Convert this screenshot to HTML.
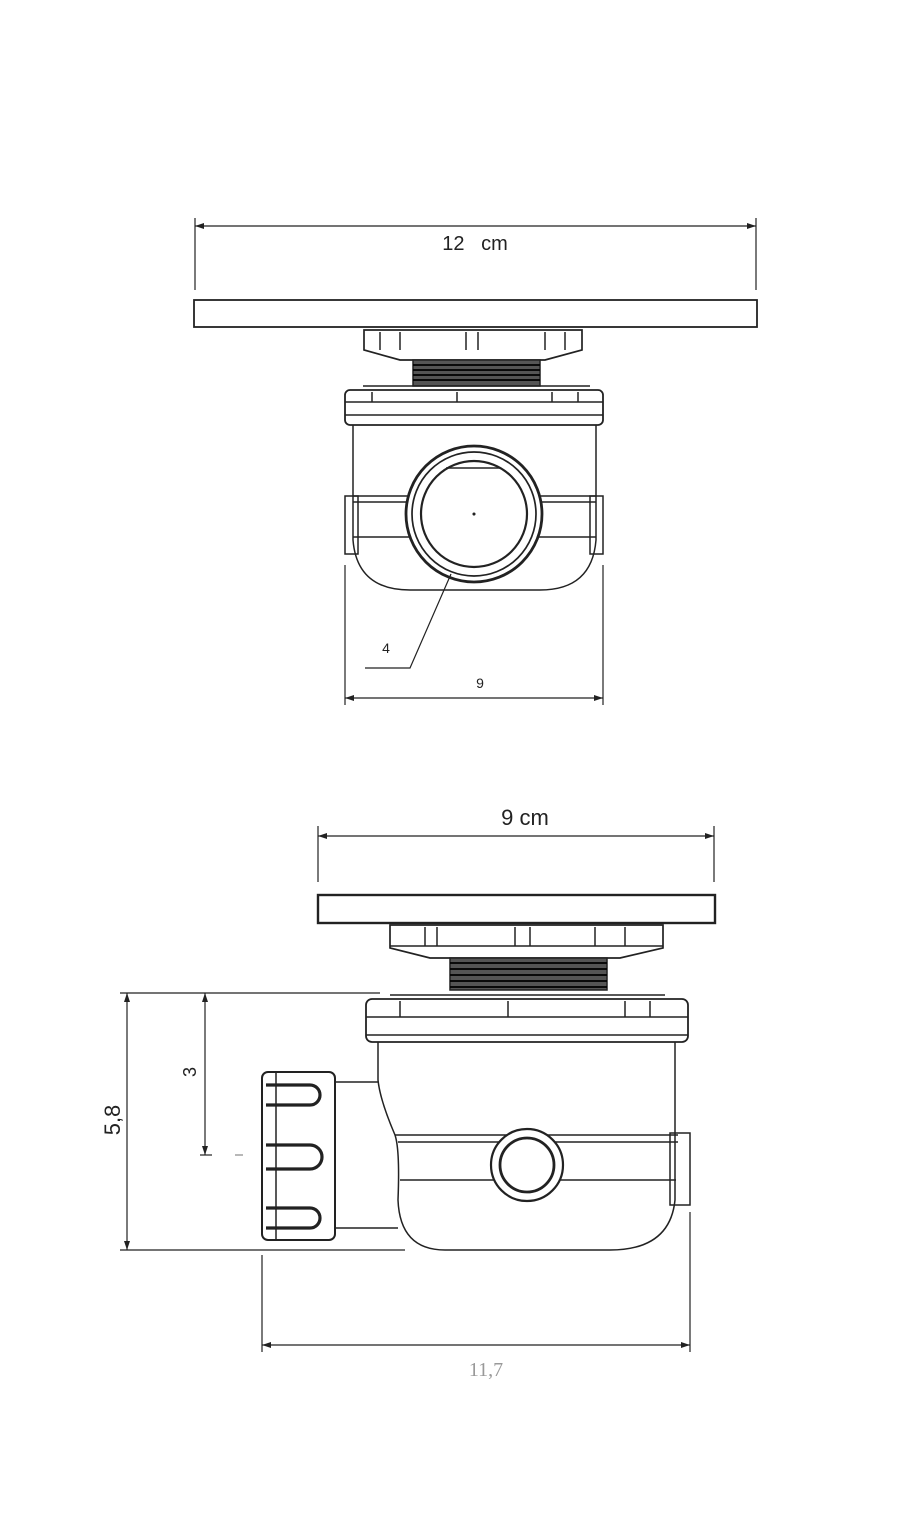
<!DOCTYPE html>
<html><head><meta charset="utf-8"><style>html,body{margin:0;padding:0;background:#fff}svg{display:block}</style></head>
<body>
<svg width="900" height="1535" viewBox="0 0 900 1535" xmlns="http://www.w3.org/2000/svg" fill="none" stroke="#222" stroke-width="1.5">
<defs>
<marker id="a" markerWidth="10" markerHeight="8" refX="9" refY="4" orient="auto-start-reverse" markerUnits="userSpaceOnUse"><path d="M0,1 L9,4 L0,7" fill="#222" stroke="none"/></marker>
</defs>
<!-- TOP VIEW -->
<line x1="195" y1="226" x2="756" y2="226" stroke-width="1.2" marker-start="url(#a)" marker-end="url(#a)"/>
<line x1="195" y1="218" x2="195" y2="290" stroke-width="1.2"/>
<line x1="756" y1="218" x2="756" y2="290" stroke-width="1.2"/>
<text x="475" y="250" font-family="Liberation Sans, sans-serif" font-size="20" fill="#222" stroke="none" text-anchor="middle">12&#160;&#160;&#160;cm</text>
<rect x="194" y="300" width="563" height="27" stroke-width="1.8"/>
<path d="M364,330 H582 V350 L545,360 H400 L364,350 Z" stroke-width="1.7"/>
<line x1="380" y1="332" x2="380" y2="350"/><line x1="400" y1="332" x2="400" y2="350"/>
<line x1="466" y1="332" x2="466" y2="350"/><line x1="478" y1="332" x2="478" y2="350"/>
<line x1="545" y1="332" x2="545" y2="350"/><line x1="565" y1="332" x2="565" y2="350"/>
<rect x="413" y="360" width="127" height="26" fill="#555" stroke-width="1.5"/>
<g stroke="#000" stroke-width="1.8"><line x1="413" y1="365" x2="540" y2="365"/><line x1="413" y1="370" x2="540" y2="370"/><line x1="413" y1="375" x2="540" y2="375"/><line x1="413" y1="380" x2="540" y2="380"/></g>
<line x1="363" y1="386" x2="590" y2="386"/>
<rect x="345" y="390" width="258" height="35" rx="5" stroke-width="1.8"/>
<line x1="345" y1="402" x2="603" y2="402"/><line x1="345" y1="415" x2="603" y2="415"/>
<line x1="372" y1="392" x2="372" y2="402"/><line x1="457" y1="392" x2="457" y2="402"/><line x1="552" y1="392" x2="552" y2="402"/><line x1="578" y1="392" x2="578" y2="402"/>
<path d="M353,425 V540 Q357,590 410,590 H540 Q592,590 596,540 V425"/>
<line x1="353" y1="496" x2="596" y2="496"/><line x1="353" y1="502" x2="596" y2="502"/><line x1="353" y1="537" x2="596" y2="537"/>
<rect x="345" y="496" width="13" height="58"/><rect x="590" y="496" width="13" height="58"/>
<circle cx="474" cy="514" r="68" fill="#fff" stroke-width="2.8"/>
<circle cx="474" cy="514" r="62" stroke-width="1.7"/>
<circle cx="474" cy="514" r="53" stroke-width="2.2"/>
<path d="M446,468 H500" stroke-width="1.5"/>
<circle cx="474" cy="514" r="0.8" fill="#222"/>
<line x1="345" y1="565" x2="345" y2="705" stroke-width="1.2"/><line x1="603" y1="565" x2="603" y2="705" stroke-width="1.2"/>
<line x1="345" y1="698" x2="603" y2="698" stroke-width="1.2" marker-start="url(#a)" marker-end="url(#a)"/>
<text x="480" y="688" font-family="Liberation Sans, sans-serif" font-size="14" fill="#222" stroke="none" text-anchor="middle">9</text>
<text x="386" y="653" font-family="Liberation Sans, sans-serif" font-size="14" fill="#222" stroke="none" text-anchor="middle">4</text>
<polyline points="365,668 410,668 451,574" stroke-width="1.2"/>
<!-- BOTTOM VIEW -->
<line x1="318" y1="836" x2="714" y2="836" stroke-width="1.2" marker-start="url(#a)" marker-end="url(#a)"/>
<line x1="318" y1="826" x2="318" y2="882" stroke-width="1.2"/><line x1="714" y1="826" x2="714" y2="882" stroke-width="1.2"/>
<text x="525" y="825" font-family="Liberation Sans, sans-serif" font-size="22" fill="#222" stroke="none" text-anchor="middle">9 cm</text>
<rect x="318" y="895" width="397" height="28" stroke-width="2.4"/>
<path d="M390,925 H663 V948 L620,958 H430 L390,948 Z" stroke-width="1.7"/>
<g><line x1="425" y1="927" x2="425" y2="946"/><line x1="437" y1="927" x2="437" y2="946"/><line x1="515" y1="927" x2="515" y2="946"/><line x1="530" y1="927" x2="530" y2="946"/><line x1="595" y1="927" x2="595" y2="946"/><line x1="625" y1="927" x2="625" y2="946"/><line x1="390" y1="946" x2="663" y2="946"/></g>
<rect x="450" y="958" width="157" height="32" fill="#555" stroke-width="1.5"/>
<g stroke="#000" stroke-width="1.8"><line x1="450" y1="963" x2="607" y2="963"/><line x1="450" y1="969" x2="607" y2="969"/><line x1="450" y1="975" x2="607" y2="975"/><line x1="450" y1="981" x2="607" y2="981"/><line x1="450" y1="987" x2="607" y2="987"/></g>
<line x1="390" y1="995" x2="665" y2="995"/>
<rect x="366" y="999" width="322" height="43" rx="6" stroke-width="1.8"/>
<line x1="366" y1="1017" x2="688" y2="1017"/><line x1="366" y1="1035" x2="688" y2="1035"/>
<line x1="400" y1="1001" x2="400" y2="1017"/><line x1="508" y1="1001" x2="508" y2="1017"/><line x1="625" y1="1001" x2="625" y2="1017"/><line x1="650" y1="1001" x2="650" y2="1017"/>
<path d="M378,1042 V1080 Q380,1100 395,1135 Q400,1150 398,1200 Q400,1250 445,1250 H610 Q670,1250 675,1200 V1042"/>
<path d="M395,1135 H678 M398,1142 H678 M400,1180 H676"/>
<rect x="670" y="1133" width="20" height="72"/>
<path d="M335,1082 H378 M335,1228 H398"/>
<rect x="262" y="1072" width="73" height="168" rx="6" stroke-width="2"/>
<line x1="276" y1="1072" x2="276" y2="1240"/>
<g stroke-width="3.2"><path d="M266,1085 H310 A10,10 0 0 1 310,1105 H266"/><path d="M266,1145 H310 A12,12 0 0 1 310,1169 H266"/><path d="M266,1208 H310 A10,10 0 0 1 310,1228 H266"/></g>
<circle cx="527" cy="1165" r="36" fill="#fff" stroke-width="2.2"/>
<circle cx="527" cy="1165" r="27" stroke-width="2.8"/>
<!-- dims -->
<g stroke-width="1.2">
<line x1="120" y1="993" x2="380" y2="993"/><line x1="120" y1="1250" x2="405" y2="1250"/>
<line x1="127" y1="993" x2="127" y2="1250" marker-start="url(#a)" marker-end="url(#a)"/>
<line x1="205" y1="993" x2="205" y2="1155" marker-start="url(#a)" marker-end="url(#a)"/>
<line x1="200" y1="1155" x2="212" y2="1155"/>
<line x1="235" y1="1155" x2="243" y2="1155" stroke="#888"/>
<line x1="262" y1="1255" x2="262" y2="1352"/><line x1="690" y1="1212" x2="690" y2="1352"/>
<line x1="262" y1="1345" x2="690" y2="1345" marker-start="url(#a)" marker-end="url(#a)"/>
</g>
<text transform="translate(120,1120) rotate(-90)" font-family="Liberation Sans, sans-serif" font-size="22" fill="#222" stroke="none" text-anchor="middle">5,8</text>
<text transform="translate(196,1072) rotate(-90)" font-family="Liberation Sans, sans-serif" font-size="18" fill="#222" stroke="none" text-anchor="middle">3</text>
<text x="486" y="1376" font-family="Liberation Serif, serif" font-size="20" fill="#999" stroke="none" text-anchor="middle">11,7</text>
</svg>
</body></html>
